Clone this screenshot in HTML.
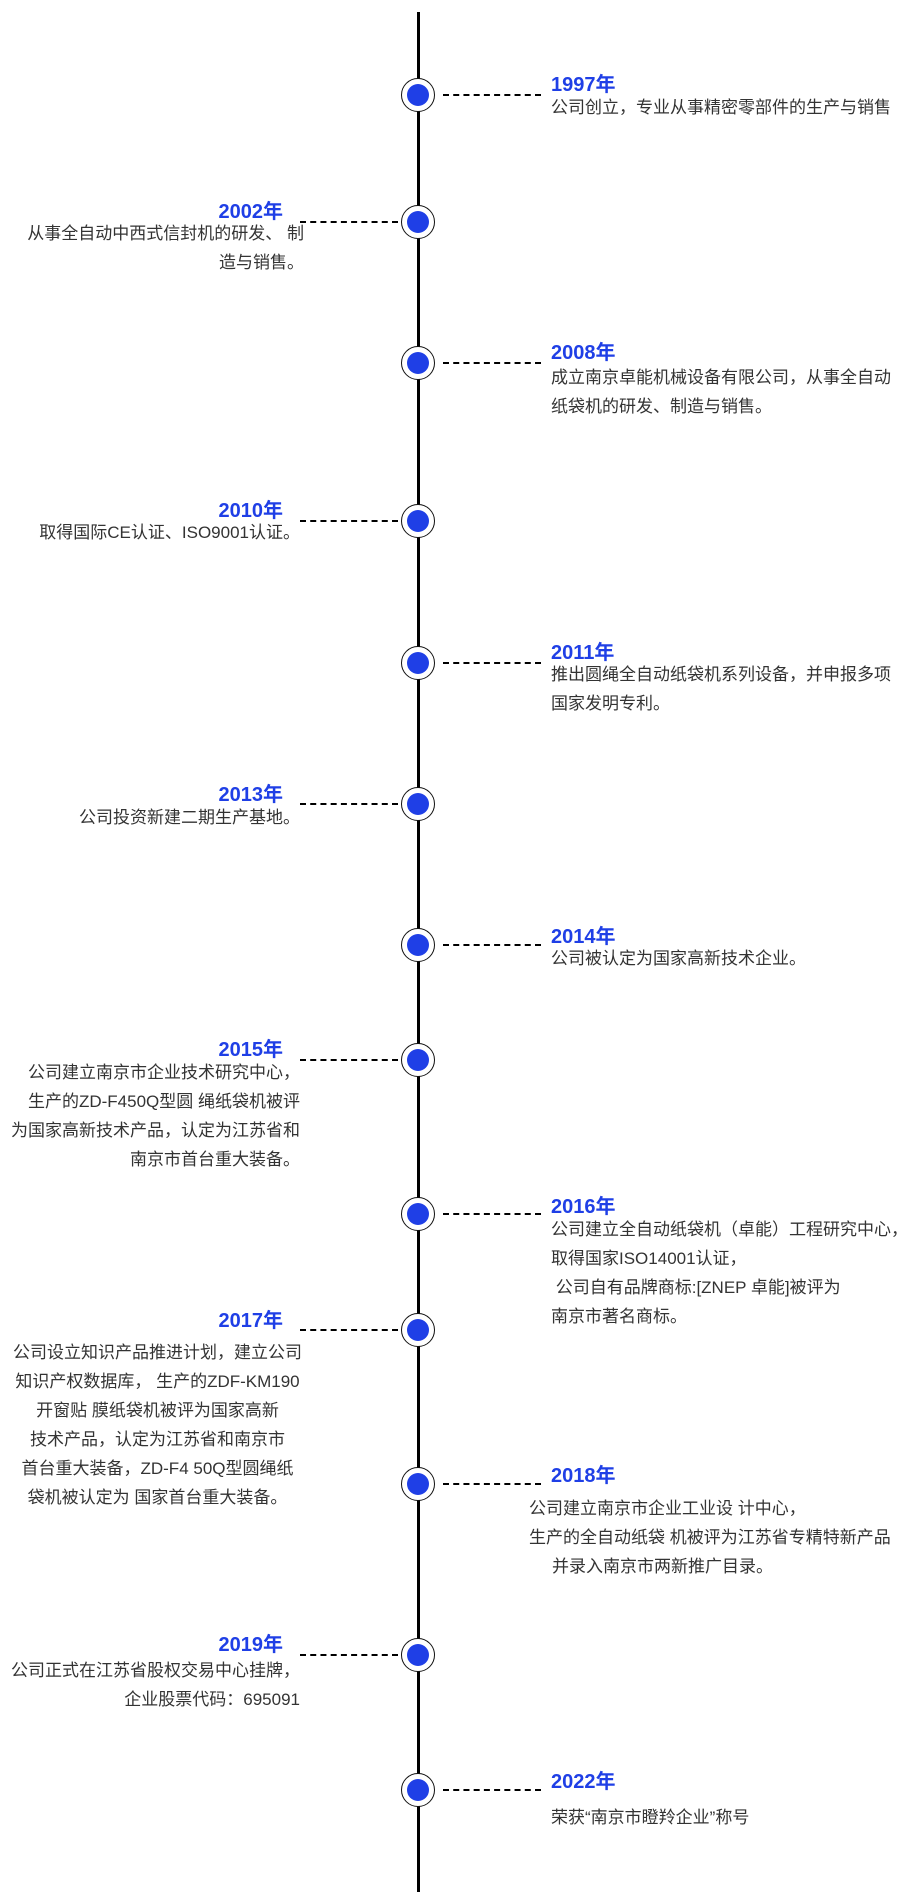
<!DOCTYPE html>
<html><head><meta charset="utf-8"><style>
body{margin:0;background:#fff;width:900px;height:1904px;position:relative;overflow:hidden;font-family:"Liberation Sans","Noto Sans CJK SC",sans-serif;}
.vl{position:absolute;left:417px;top:12px;width:3px;height:1880px;background:#000;}
.c{position:absolute;width:32px;height:32px;border:1.5px solid #111;border-radius:50%;background:#fff;}
.c::after{content:"";position:absolute;left:5px;top:5px;width:22px;height:22px;border-radius:50%;background:#1f3fe6;}
.d{position:absolute;width:98px;border-top:2.5px dashed #000;}
.y{position:absolute;color:#1f3fe6;font-weight:bold;font-size:20px;line-height:24px;}
.t{position:absolute;color:#333;font-size:17px;line-height:29px;white-space:nowrap;}
.r{text-align:right}
</style></head><body>
<div class="vl"></div>

<div class="c" style="left:401px;top:78px"></div><div class="d" style="left:443px;top:94px"></div>
<div class="y" style="left:551px;top:73px">1997年</div>
<div class="t" style="left:551px;top:93px">公司创立，专业从事精密零部件的生产与销售</div>

<div class="c" style="left:401px;top:205px"></div><div class="d" style="left:300px;top:221px"></div>
<div class="y r" style="right:617px;top:200px">2002年</div>
<div class="t r" style="right:596px;top:219px">从事全自动中西式信封机的研发、 制<br>造与销售。</div>

<div class="c" style="left:401px;top:346px"></div><div class="d" style="left:443px;top:362px"></div>
<div class="y" style="left:551px;top:341px">2008年</div>
<div class="t" style="left:551px;top:363px">成立南京卓能机械设备有限公司，从事全自动<br>纸袋机的研发、制造与销售。</div>

<div class="c" style="left:401px;top:504px"></div><div class="d" style="left:300px;top:520px"></div>
<div class="y r" style="right:617px;top:499px">2010年</div>
<div class="t r" style="right:600px;top:518px">取得国际CE认证、ISO9001认证。</div>

<div class="c" style="left:401px;top:646px"></div><div class="d" style="left:443px;top:662px"></div>
<div class="y" style="left:551px;top:641px">2011年</div>
<div class="t" style="left:551px;top:660px">推出圆绳全自动纸袋机系列设备，并申报多项<br>国家发明专利。</div>

<div class="c" style="left:401px;top:787px"></div><div class="d" style="left:300px;top:803px"></div>
<div class="y r" style="right:617px;top:783px">2013年</div>
<div class="t r" style="right:600px;top:803px">公司投资新建二期生产基地。</div>

<div class="c" style="left:401px;top:928px"></div><div class="d" style="left:443px;top:944px"></div>
<div class="y" style="left:551px;top:925px">2014年</div>
<div class="t" style="left:551px;top:944px">公司被认定为国家高新技术企业。</div>

<div class="c" style="left:401px;top:1043px"></div><div class="d" style="left:300px;top:1059px"></div>
<div class="y r" style="right:617px;top:1038px">2015年</div>
<div class="t r" style="right:600px;top:1058px">公司建立南京市企业技术研究中心，<br>生产的ZD-F450Q型圆 绳纸袋机被评<br>为国家高新技术产品，认定为江苏省和<br>南京市首台重大装备。</div>

<div class="c" style="left:401px;top:1197px"></div><div class="d" style="left:443px;top:1213px"></div>
<div class="y" style="left:551px;top:1195px">2016年</div>
<div class="t" style="left:551px;top:1215px">公司建立全自动纸袋机（卓能）工程研究中心，<br>取得国家ISO14001认证，<br>&nbsp;公司自有品牌商标:[ZNEP 卓能]被评为<br>南京市著名商标。</div>

<div class="c" style="left:401px;top:1313px"></div><div class="d" style="left:300px;top:1329px"></div>
<div class="y r" style="right:617px;top:1309px">2017年</div>
<div class="t" style="left:5px;width:305px;text-align:center;top:1338px">公司设立知识产品推进计划，建立公司<br>知识产权数据库， 生产的ZDF-KM190<br>开窗贴 膜纸袋机被评为国家高新<br>技术产品，认定为江苏省和南京市<br>首台重大装备，ZD-F4 50Q型圆绳纸<br>袋机被认定为 国家首台重大装备。</div>

<div class="c" style="left:401px;top:1467px"></div><div class="d" style="left:443px;top:1483px"></div>
<div class="y" style="left:551px;top:1464px">2018年</div>
<div class="t" style="left:529px;top:1494px">公司建立南京市企业工业设 计中心，<br>生产的全自动纸袋 机被评为江苏省专精特新产品<br><span style="padding-left:23px">并录入南京市两新推广目录。</span></div>

<div class="c" style="left:401px;top:1638px"></div><div class="d" style="left:300px;top:1654px"></div>
<div class="y r" style="right:617px;top:1633px">2019年</div>
<div class="t r" style="right:600px;top:1656px">公司正式在江苏省股权交易中心挂牌，<br>企业股票代码：695091</div>

<div class="c" style="left:401px;top:1773px"></div><div class="d" style="left:443px;top:1789px"></div>
<div class="y" style="left:551px;top:1770px">2022年</div>
<div class="t" style="left:551px;top:1803px">荣获“南京市瞪羚企业”称号</div>
</body></html>
